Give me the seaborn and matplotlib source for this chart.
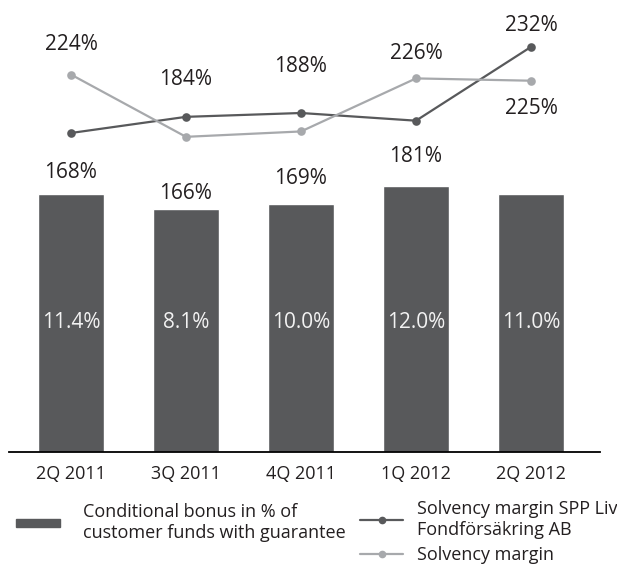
import matplotlib
matplotlib.use('Agg')
import matplotlib.pyplot as plt
import matplotlib.transforms as mtransforms
from matplotlib.lines import Line2D
from matplotlib.patches import Patch
import seaborn as sns

# Data (chart is drawn schematically)
quarters = ['2Q 2011', '3Q 2011', '4Q 2011', '1Q 2012', '2Q 2012']
bar_height = [168, 158, 161.5, 173, 168]
bar_top_labels = ['168%', '166%', '169%', '181%', None]
bonus_labels = ['11.4%', '8.1%', '10.0%', '12.0%', '11.0%']
spp_fond = [207.5, 218, 220.5, 215.5, 263.5]
spp_fond_labels = [None, '184%', '188%', None, '232%']
solvency = [245.5, 205, 208.5, 243, 241.5]
solvency_labels = ['224%', None, None, '226%', '225%']

# label offsets in pixels (style, not data)
bar_top_off = [21, 16, 25, 30, 0]
spp_fond_off = [0, 37, 47, 0, 21]
solvency_off = [30, 0, 0, 25, -28]

dark = '#58595b'
light = '#a7a9ac'
txt = '#231f20'

sns.set_style('white')
plt.rcParams['font.family'] = ['Open Sans', 'DejaVu Sans']

fig = plt.figure(figsize=(6.17, 5.68), dpi=100)
ax = fig.add_axes([9 / 617, 1 - 452 / 568, 591 / 617, 452 / 568])

sns.barplot(x=quarters, y=bar_height, color=dark, saturation=1, width=0.574, ax=ax)
sns.pointplot(x=quarters, y=spp_fond, color=dark, markers='o', markersize=5,
              linewidth=1.6, ax=ax)
sns.pointplot(x=quarters, y=solvency, color=light, markers='o', markersize=5,
              linewidth=1.6, ax=ax)

ax.set_xlim(-0.539, 4.6)
ax.set_ylim(0, 294)

def put_labels(values, labels, offsets):
    for i, (v, lab, off) in enumerate(zip(values, labels, offsets)):
        if lab is None:
            continue
        ax.annotate(lab, (i, v), xytext=(0, off), textcoords='offset pixels',
                    ha='center', va='center', fontsize=15, color=txt)

put_labels(bar_height, bar_top_labels, bar_top_off)
put_labels(spp_fond, spp_fond_labels, spp_fond_off)
put_labels(solvency, solvency_labels, solvency_off)

trans = mtransforms.blended_transform_factory(ax.transData, ax.transAxes)
for i, lab in enumerate(bonus_labels):
    ax.text(i, 0.2876, lab, transform=trans, ha='center', va='center',
            fontsize=15, color='#f2f2f2')

for s in ['left', 'right', 'top']:
    ax.spines[s].set_visible(False)
ax.spines['bottom'].set_color('black')
ax.spines['bottom'].set_linewidth(1.3)
ax.set_yticks([])
ax.tick_params(axis='x', length=0, pad=9, labelsize=13, labelcolor=txt)
ax.set_xlabel('')
ax.set_ylabel('')

leg1 = fig.legend(handles=[Patch(color=dark)],
                  labels=['Conditional bonus in % of\ncustomer funds with guarantee'],
                  loc='upper left', bbox_to_anchor=(16 / 617, 1 - 503 / 568),
                  frameon=False, fontsize=13, borderpad=0, borderaxespad=0,
                  handlelength=2.44, handleheight=0.35, handletextpad=1.28,
                  labelcolor=txt)
leg2 = fig.legend(handles=[Line2D([], [], color=dark, lw=1.6, marker='o', ms=4.5),
                           Line2D([], [], color=light, lw=1.6, marker='o', ms=4.5)],
                  labels=['Solvency margin SPP Liv\nFondförsäkring AB', 'Solvency margin'],
                  loc='upper left', bbox_to_anchor=(360 / 617, 1 - 500 / 568),
                  frameon=False, fontsize=13, borderpad=0, borderaxespad=0,
                  handlelength=2.4, handletextpad=0.78, labelspacing=0.42,
                  labelcolor=txt)

fig.savefig('out.png', dpi=100)
